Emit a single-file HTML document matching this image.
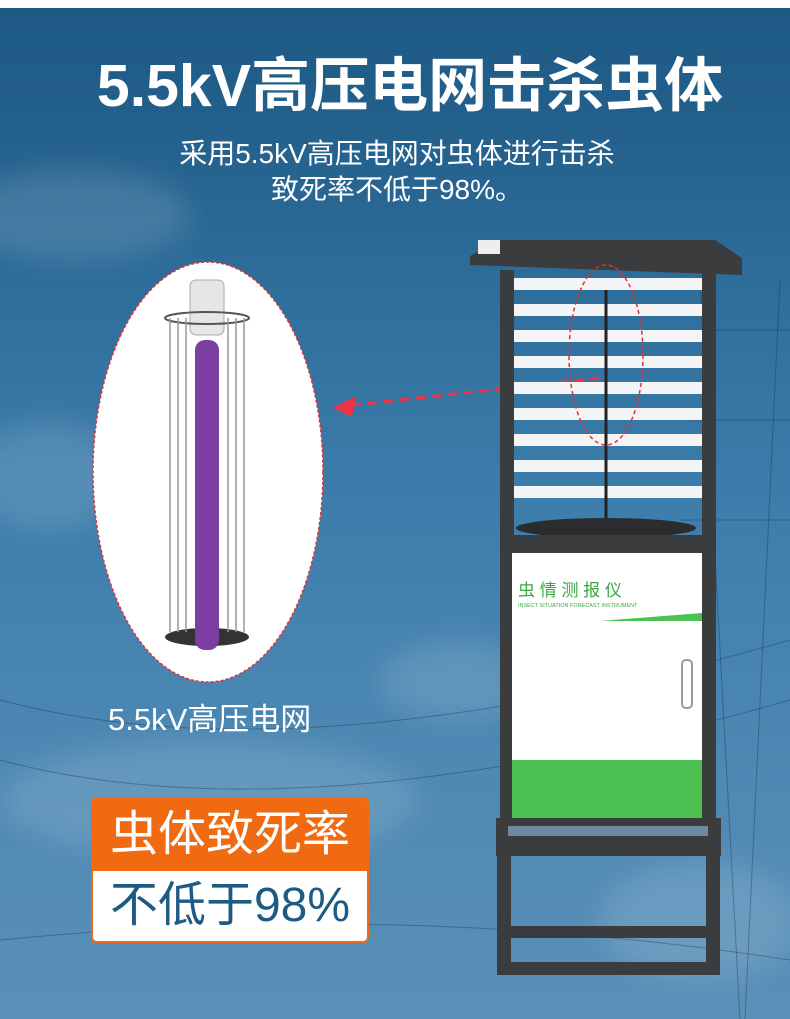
<!DOCTYPE html>
<html><head><meta charset="utf-8"><style>
html,body{margin:0;padding:0}
body{width:790px;height:1019px;position:relative;overflow:hidden;font-family:"Liberation Sans","Noto Sans CJK SC",sans-serif;
background:linear-gradient(180deg,#fff 0,#fff 8px,#1d5a84 8px,#235f8b 120px,#2f6f9c 300px,#3c7dab 500px,#4a86b2 700px,#5a90b8 1019px)}
.abs{position:absolute}
.cloud{position:absolute;border-radius:50%;background:rgba(255,255,255,0.13);filter:blur(14px)}
</style></head><body>
<div class="cloud" style="left:-40px;top:170px;width:230px;height:90px"></div>
<div class="cloud" style="left:-30px;top:420px;width:160px;height:110px"></div>
<div class="cloud" style="left:0px;top:740px;width:420px;height:120px"></div>
<div class="cloud" style="left:380px;top:640px;width:160px;height:80px"></div>
<div class="cloud" style="left:600px;top:860px;width:200px;height:120px"></div>

<svg class="abs" style="left:0;top:0" width="790" height="1019">
 <g stroke="rgba(20,40,60,0.35)" stroke-width="1" fill="none">
  <path d="M700 280 L740 1019 M780 280 L745 1019 M700 330 L790 330 M690 420 L790 420 M680 520 L790 520"/>
  <path d="M0 700 Q300 780 790 640 M0 760 Q300 840 790 700 M0 940 Q400 900 790 960"/>
 </g>
</svg>

<div class="abs" style="left:0;width:820px;top:50px;text-align:center;color:#fff;font-size:59px;font-weight:bold;line-height:72px">5.5kV高压电网击杀虫体</div>
<div class="abs" style="left:0;width:794px;top:136px;text-align:center;color:#fff;font-size:28px;line-height:36px">采用5.5kV高压电网对虫体进行击杀<br>致死率不低于98%。</div>

<svg class="abs" style="left:0;top:0" width="790" height="1019">
 <ellipse cx="208" cy="472" rx="115" ry="210" fill="#fff" stroke="#d33" stroke-width="1.5" stroke-dasharray="3 2"/>
 <ellipse cx="207" cy="637" rx="42" ry="9" fill="#333"/>
 <rect x="195" y="340" width="24" height="310" rx="10" fill="#7a3fa0"/>
 <rect x="190" y="280" width="34" height="55" rx="6" fill="#e6e6e6" stroke="#aaa"/>
 <ellipse cx="207" cy="318" rx="42" ry="6" fill="none" stroke="#555" stroke-width="2"/>
 <g stroke="#999" stroke-width="1.5">
  <line x1="170" y1="318" x2="170" y2="632"/><line x1="178" y1="318" x2="178" y2="632"/><line x1="186" y1="318" x2="186" y2="632"/>
  <line x1="228" y1="318" x2="228" y2="632"/><line x1="236" y1="318" x2="236" y2="632"/><line x1="244" y1="318" x2="244" y2="632"/>
 </g>
 <line x1="600" y1="378" x2="345" y2="406" stroke="#e34" stroke-width="3" stroke-dasharray="10 6"/>
 <path d="M333 408 L356 396 L352 417 Z" fill="#e34"/>
 <path d="M470 256 L500 240 L715 240 L742 258 L742 275 L470 265 Z" fill="#3a3c3e"/>
 <rect x="478" y="240" width="22" height="14" fill="#eee"/>
 <rect x="500" y="270" width="14" height="275" fill="#3a3c3e"/>
 <rect x="702" y="270" width="14" height="275" fill="#3a3c3e"/>
 <g fill="#f2f4f5">
  <rect x="514" y="278" width="188" height="12"/><rect x="514" y="304" width="188" height="12"/><rect x="514" y="330" width="188" height="12"/>
  <rect x="514" y="356" width="188" height="12"/><rect x="514" y="382" width="188" height="12"/><rect x="514" y="408" width="188" height="12"/>
  <rect x="514" y="434" width="188" height="12"/><rect x="514" y="460" width="188" height="12"/><rect x="514" y="486" width="188" height="12"/>
 </g>
 <ellipse cx="606" cy="355" rx="37" ry="90" fill="none" stroke="#d33" stroke-width="1.5" stroke-dasharray="4 3"/>
 <line x1="606" y1="290" x2="606" y2="530" stroke="#222" stroke-width="3"/>
 <ellipse cx="606" cy="528" rx="90" ry="10" fill="#2a2c2e"/>
 <rect x="500" y="535" width="216" height="10" fill="#3a3c3e"/>
 <rect x="500" y="543" width="216" height="292" fill="#3a3c3e"/>
 <rect x="512" y="553" width="190" height="266" fill="#fff"/>
 <rect x="512" y="760" width="190" height="58" fill="#4cc152"/>
 <path d="M600 621 L702 613 L702 621 Z" fill="#4cc152"/>
 <rect x="682" y="660" width="10" height="48" rx="4" fill="none" stroke="#999" stroke-width="2"/>
 <text x="518" y="596" font-size="17" fill="#3aa845" font-family="Liberation Sans,Noto Sans CJK SC,sans-serif">虫 情 测 报 仪</text>
 <text x="518" y="607" font-size="5.5" fill="#3aa845" font-family="Liberation Sans,sans-serif">INSECT SITUATION FORECAST INSTRUMENT</text>
 <rect x="496" y="818" width="225" height="38" fill="#3a3c3e"/>
 <rect x="508" y="826" width="200" height="10" fill="#6d8aa2"/>
 <rect x="497" y="856" width="14" height="118" fill="#3a3c3e"/>
 <rect x="706" y="856" width="14" height="118" fill="#3a3c3e"/>
 <rect x="497" y="926" width="223" height="12" fill="#3a3c3e"/>
 <rect x="497" y="962" width="223" height="13" fill="#3a3c3e"/>
</svg>

<div class="abs" style="left:108px;top:700px;color:#fff;font-size:31px;line-height:40px">5.5kV高压电网</div>

<div class="abs" style="left:91px;top:797px;width:278px;height:146px;border:2px solid #f06a12;box-sizing:border-box;border-radius:6px;overflow:hidden;background:#fff">
 <div style="height:72px;background:#f06a12;color:#fff;font-size:48px;line-height:72px;text-align:center">虫体致死率</div>
 <div style="height:70px;color:#1d5a84;font-size:48px;line-height:70px;text-align:center">不低于98%</div>
</div>
</body></html>
